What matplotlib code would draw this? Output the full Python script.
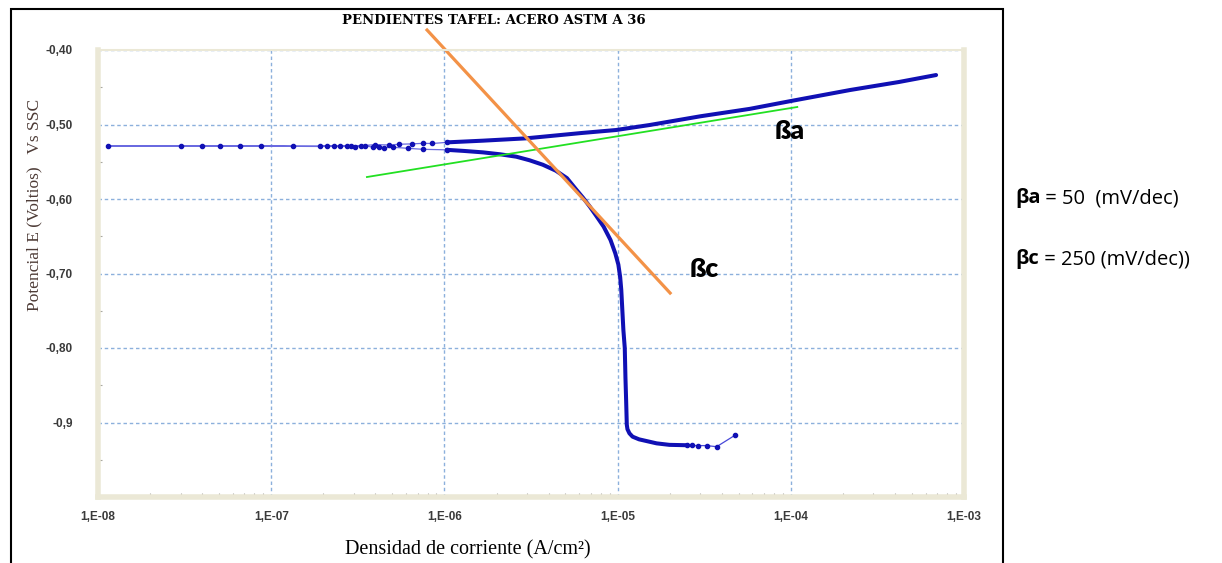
import matplotlib.pyplot as plt
from matplotlib.patches import Rectangle
import numpy as np

# Polarization curve (current density A/cm2, potential V)
tail_i = [4.77e-5, 3.73e-5, 3.27e-5, 2.90e-5, 2.70e-5, 2.50e-5]
tail_E = [-0.917, -0.9325, -0.931, -0.931, -0.9308, -0.9305]

cath_i = [2.50e-5, 1.99e-5, 1.68e-5, 1.33e-5, 1.22e-5, 1.17e-5, 1.14e-5, 1.13e-5,
          1.12e-5, 1.11e-5, 1.10e-5, 1.08e-5, 1.06e-5, 1.05e-5, 1.035e-5, 1.01e-5,
          9.7e-6, 9.1e-6, 8.3e-6, 7.5e-6, 6.9e-6, 6.3e-6, 5.8e-6, 5.1e-6, 4.4e-6,
          3.7e-6, 3.1e-6, 2.6e-6, 2.1e-6, 1.67e-6, 1.3e-6, 1.03e-6]
cath_E = [-0.9305, -0.930, -0.928, -0.9226, -0.919, -0.9145, -0.909, -0.903,
          -0.870, -0.840, -0.800, -0.776, -0.740, -0.722, -0.705, -0.688,
          -0.673, -0.655, -0.637, -0.622, -0.610, -0.598, -0.588, -0.572, -0.562,
          -0.554, -0.548, -0.5432, -0.540, -0.5374, -0.5355, -0.534]

near_i = [1.03e-6, 7.5e-7, 6.2e-7, 5.07e-7, 4.5e-7, 4.19e-7, 3.87e-7, 3.49e-7,
          3.05e-7, 2.74e-7, 2.49e-7, 2.09e-7, 1.91e-7, 1.34e-7, 8.7e-8, 6.6e-8,
          5.06e-8, 3.98e-8, 3.01e-8, 1.14e-8,
          2.3e-7, 2.9e-7, 3.3e-7, 4.0e-7, 4.8e-7, 5.5e-7, 6.5e-7, 7.5e-7,
          8.5e-7, 1.03e-6]
near_E = [-0.534, -0.5333, -0.532, -0.5306, -0.531, -0.5296, -0.5305, -0.5285,
          -0.530, -0.5285, -0.5295, -0.5285, -0.5295, -0.5293, -0.5285, -0.5288,
          -0.5288, -0.529, -0.5288, -0.529,
          -0.529, -0.5282, -0.5285, -0.527, -0.5275, -0.5265, -0.526, -0.5253,
          -0.5255, -0.524]

anod_i = [1.03e-6, 1.67e-6, 2.95e-6, 6.2e-6, 9.8e-6, 1.53e-5, 3.0e-5, 5.8e-5,
          1.0e-4, 2.2e-4, 4.2e-4, 6.9e-4]
anod_E = [-0.524, -0.5217, -0.5186, -0.5114, -0.5074, -0.5007, -0.489, -0.479,
          -0.4685, -0.4537, -0.443, -0.4336]

# Tafel lines (end points)
ba_i = [3.57e-7, 1.09e-4]
ba_E = [-0.5705, -0.4765]
bc_i = [7.94e-7, 2.01e-5]
bc_E = [-0.3732, -0.7262]

x_ticks = [1e-8, 1e-7, 1e-6, 1e-5, 1e-4, 1e-3]
x_labels = ["1,E-08", "1,E-07", "1,E-06", "1,E-05", "1,E-04", "1,E-03"]
y_ticks = [-0.4, -0.5, -0.6, -0.7, -0.8, -0.9]
y_labels = ["-0,40", "-0,50", "-0,60", "-0,70", "-0,80", "-0,9"]

blue = "#1010b4"
beige = "#ebe8d6"
grid_c = "#8cb0dc"

fig = plt.figure(figsize=(12.22, 5.63), dpi=100)
ax = fig.add_axes([98 / 1222, 1 - 497 / 563, 866 / 1222, 447 / 563])

ax.plot(tail_i, tail_E, color="#4848d8", lw=0.9, marker="o", ms=3,
        mfc=blue, mec=blue)
ax.plot(cath_i, cath_E, color=blue, lw=2.9, solid_capstyle="round",
        solid_joinstyle="round")
ax.plot(near_i, near_E, color="#6a6ae0", lw=0.9, marker="o", ms=3,
        mfc=blue, mec=blue)
ax.plot(anod_i, anod_E, color=blue, lw=2.9, solid_capstyle="round",
        solid_joinstyle="round")

ax.plot(ba_i, ba_E, color="#22e022", lw=1.3)
ax.plot(bc_i, bc_E, color="#f39247", lw=2.3, clip_on=False)

ax.set_xscale("log")
ax.set_xlim(1e-8, 1e-3)
ax.set_ylim(-1.0, -0.4)
ax.set_xticks(x_ticks)
ax.set_xticklabels(x_labels)
ax.set_yticks(y_ticks)
ax.set_yticklabels(y_labels)
ax.set_yticks(np.arange(-0.95, -0.4, 0.1), minor=True)
ax.xaxis.set_minor_formatter(plt.NullFormatter())

ax.tick_params(which="major", length=0, labelsize=8.5, labelcolor="#3a3a3a")
ax.tick_params(axis="y", which="major", pad=18)
ax.tick_params(axis="x", which="major", pad=10)
ax.tick_params(which="minor", length=3, width=0.8, color="#a8a8a0", direction="in")
for lab in ax.get_xticklabels() + ax.get_yticklabels():
    lab.set_fontfamily(["Liberation Sans", "DejaVu Sans"])
    lab.set_fontweight("bold")

ax.grid(True, which="major", color=grid_c, lw=1.0, linestyle=(0, (2.5, 2)))
for side in ["left", "bottom", "right"]:
    ax.spines[side].set_color(beige)
    ax.spines[side].set_linewidth(4)
ax.spines["top"].set_color(beige)
ax.spines["top"].set_linewidth(1.5)

ax.text(9.9e-5, -0.509, "ßa", fontsize=19, fontweight="heavy",
        family=["Lato", "DejaVu Sans"], ha="center", va="center")
ax.text(3.15e-5, -0.694, "ßc", fontsize=19, fontweight="heavy",
        family=["Lato", "DejaVu Sans"], ha="center", va="center")

fig.text(494 / 1222, 1 - 20 / 563, "PENDIENTES TAFEL: ACERO ASTM A 36",
         family="DejaVu Serif", fontweight="bold", fontsize=9.5,
         ha="center", va="center")
fig.text(34 / 1222, 1 - 205 / 563, "Potencial E (Voltios)   Vs SSC",
         family="Liberation Serif", fontsize=12.5, color="#4d3b36",
         rotation=90, ha="center", va="center")
fig.text(468 / 1222, 1 - 550 / 563, "Densidad de corriente (A/cm²)",
         family="Liberation Serif", fontsize=14.5, ha="center", va="center")

fam = ["Open Sans", "DejaVu Sans"]
t1 = fig.text(1015 / 1222, 1 - 198 / 563, "βa", fontsize=14.5, fontweight="bold",
              ha="left", va="center", family=fam)
ax.annotate(" = 50  (mV/dec)", xy=(1, 0.5), xycoords=t1, fontsize=14.5,
            ha="left", va="center", family=fam, annotation_clip=False)
t2 = fig.text(1015 / 1222, 1 - 259 / 563, "βc", fontsize=14.5, fontweight="bold",
              ha="left", va="center", family=fam)
ax.annotate(" = 250 (mV/dec))", xy=(1, 0.5), xycoords=t2, fontsize=14.5,
            ha="left", va="center", family=fam, annotation_clip=False)

fig.patches.append(Rectangle((11 / 1222, -0.02), (1003 - 11) / 1222, 1.02 - 9 / 563,
                             transform=fig.transFigure, fill=False,
                             edgecolor="black", lw=1.5))

fig.savefig("out.png", dpi=100)
